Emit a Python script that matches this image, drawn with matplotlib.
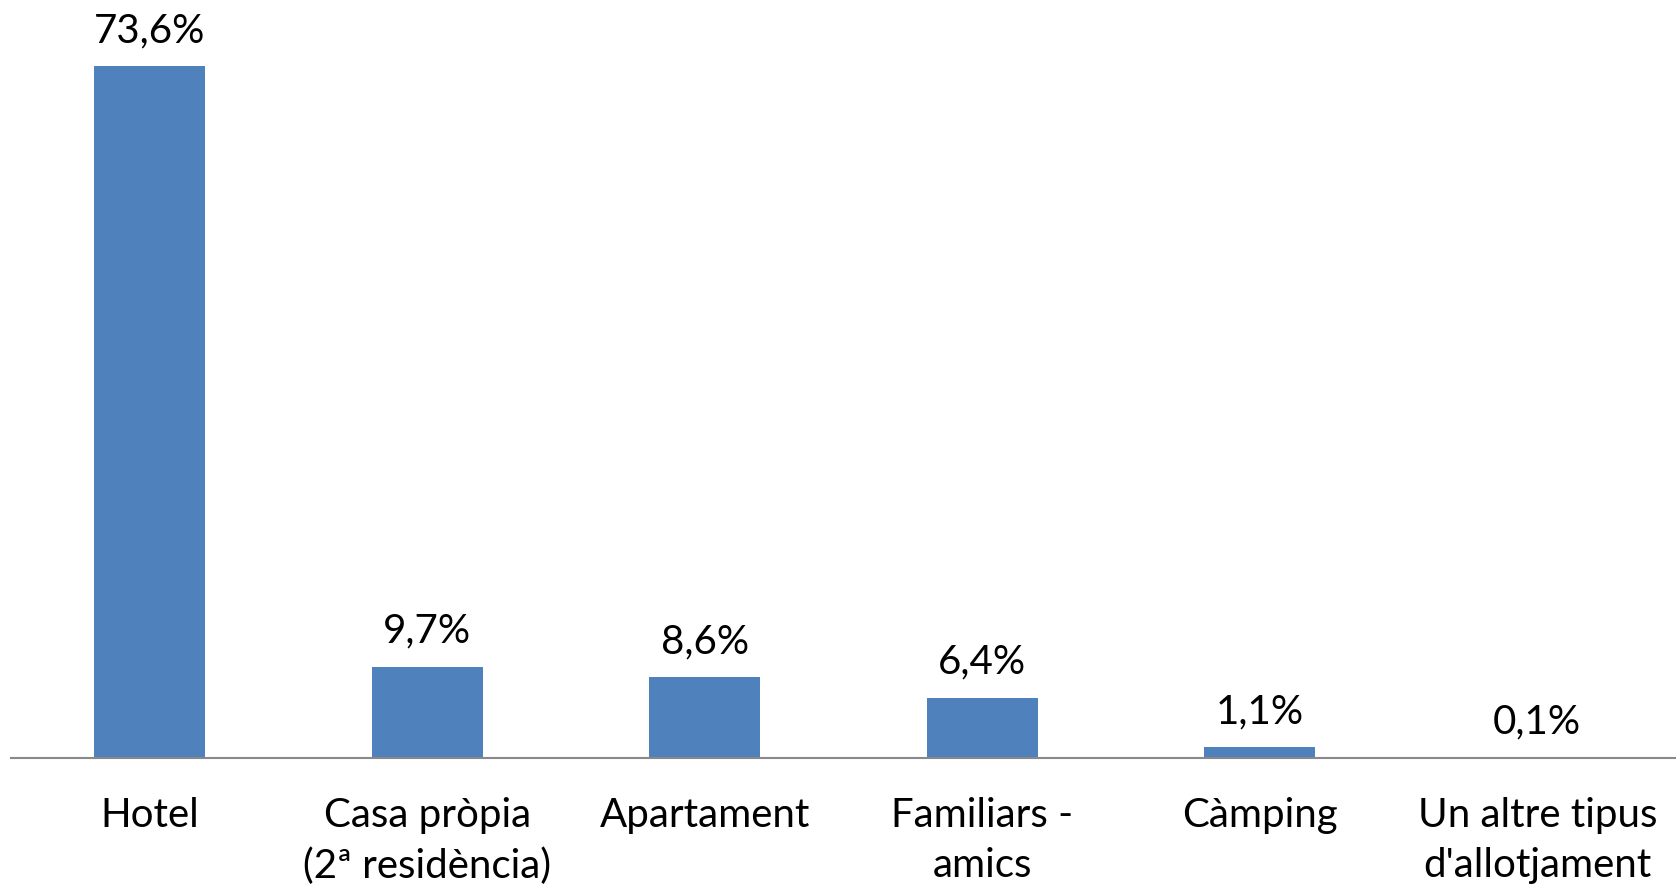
import matplotlib.pyplot as plt

# Data
categories = ['Hotel', 'Casa pròpia\n(2ª residència)', 'Apartament',
              'Familiars -\namics', 'Càmping', "Un altre tipus\nd'allotjament"]
values = [73.6, 9.7, 8.6, 6.4, 1.1, 0.1]
value_labels = ['73,6%', '9,7%', '8,6%', '6,4%', '1,1%', '0,1%']

plt.rcParams['font.family'] = ['Lato', 'DejaVu Sans']

fig = plt.figure(figsize=(16.76, 8.86), dpi=100)
ax = fig.add_axes([11 / 1676, 1 - 757.7 / 886, 1 - 11 / 1676, (757.7 - 6) / 886])

x = range(len(categories))
bars = ax.bar(x, values, width=0.4, color='#4F81BD', zorder=2)

# Value labels above the bars
for bar, lab in zip(bars, value_labels):
    ax.annotate(lab, (bar.get_x() + bar.get_width() / 2, bar.get_height()),
                xytext=(0, 17), textcoords='offset points',
                ha='center', va='baseline', fontsize=29, color='black')

ax.set_xlim(-0.5, 5.5)
ax.set_ylim(0, 80)
ax.set_xticks(list(x))
ax.set_xticklabels(categories, fontsize=29, linespacing=1.46)
ax.tick_params(axis='x', length=0, pad=28)
ax.set_yticks([])

for side in ['top', 'right', 'left']:
    ax.spines[side].set_visible(False)
ax.spines['bottom'].set_color('#898989')
ax.spines['bottom'].set_linewidth(1.5)

plt.savefig('out.png', dpi=100)
